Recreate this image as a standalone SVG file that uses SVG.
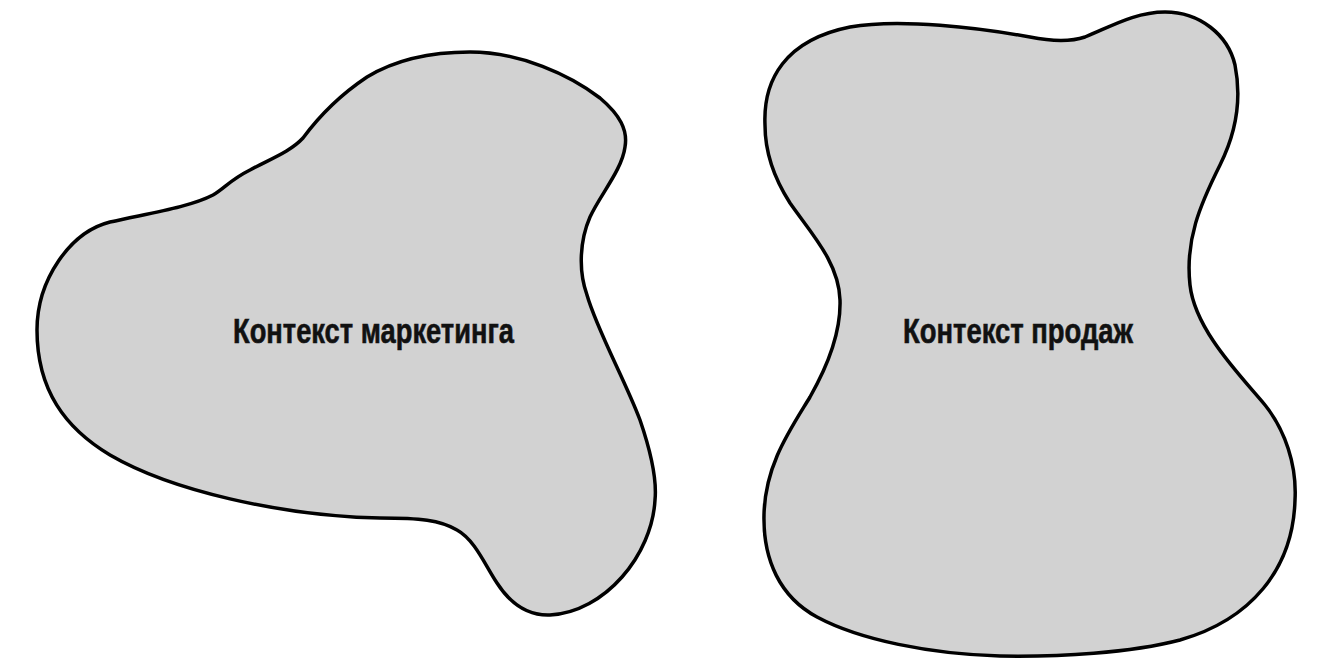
<svg xmlns="http://www.w3.org/2000/svg" width="1330" height="663" viewBox="0 0 1330 663">
<style>
.shape{fill:#d2d2d2;stroke:#000;stroke-width:3.5;stroke-linejoin:round}
.lbl{font-family:"Liberation Sans",Arial,sans-serif;font-weight:bold;font-size:35px;fill:#111;stroke:#111;stroke-width:0.6}
</style>
<rect width="1330" height="663" fill="#fff"/>
<g id="marketing">
<path class="shape" d="M 37,330 C 37,280 70,232 110,222 C 150,213 190,207 213,195 C 225,188 230,180 250,170 C 270,159 290,152 303,138 C 320,115 340,95 367,77 C 395,60 430,52 470,52 C 520,52 570,75 600,98 C 620,115 628,130 625,147 C 622,170 600,195 590,217 C 580,240 578,270 587,295 C 597,330 625,380 640,420 C 652,455 657,480 655,500 C 652,555 605,612 550,615 C 525,616 508,600 497,583 C 485,565 475,540 457,530 C 440,520 420,518 380,518 C 280,516 170,490 110,455 C 65,428 37,390 37,330 Z"/>
<text class="lbl" x="233" y="343" textLength="281" lengthAdjust="spacingAndGlyphs">Контекст маркетинга</text>
</g>
<g id="sales">
<path class="shape" d="M 765,125 C 763,80 785,40 850,27 C 900,18 980,28 1030,37 C 1050,41 1070,42 1085,37 C 1110,27 1135,12 1165,12 C 1200,12 1228,35 1235,65 C 1242,100 1235,135 1220,165 C 1200,205 1185,240 1190,285 C 1195,330 1240,375 1265,405 C 1285,430 1297,465 1295,500 C 1293,570 1250,620 1180,640 C 1130,653 1060,657 1000,656 C 930,654 860,640 817,617 C 780,597 763,560 764,515 C 765,465 790,430 810,397 C 830,362 841,330 840,300 C 839,262 810,232 790,203 C 772,175 765,150 765,125 Z"/>
<text class="lbl" x="903" y="343" textLength="230" lengthAdjust="spacingAndGlyphs">Контекст продаж</text>
</g>
<g id="connectors"/>
</svg>
